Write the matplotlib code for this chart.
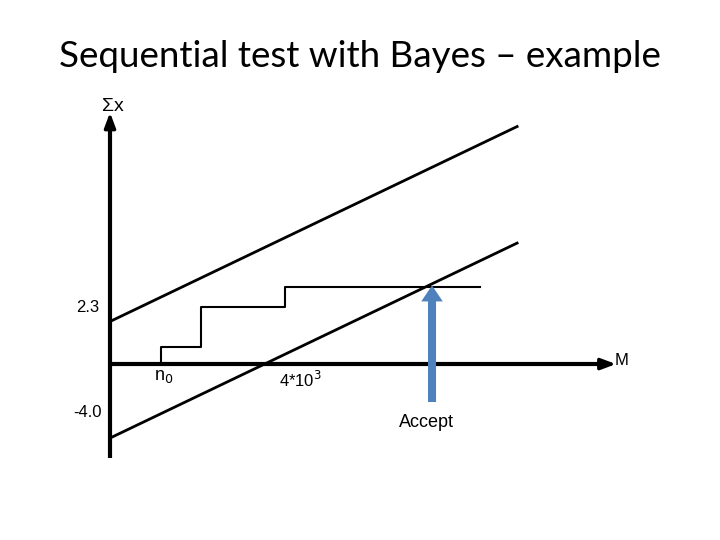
import numpy as np
import matplotlib
matplotlib.use("Agg")
import matplotlib.pyplot as plt

# Thresholds: sum x against number of events M (schematic)
m_line = [0, 10540]
upper_icpt = 2.3
lower_icpt = -4.0
slope = 1.0e-3  # per event

# cumulative sum, a few steps starting at n0
step_m = [1320, 1320, 2356, 2356, 4531, 4531, 9579]
step_s = [0.0, 0.92, 0.92, 3.08, 3.08, 4.16, 4.16]

accept_m = 8337
accept_from, accept_to = -2.05, 4.25

# axis extents
x_axis_end = 13100
y_axis_bottom, y_axis_top = -5.1, 13.6

fig = plt.figure(figsize=(7.2, 5.4), dpi=100)
ax = fig.add_axes([0, 0, 1, 1])
ax.set_xlim(-2848, 15793)
ax.set_ylim(-9.51, 19.68)
ax.axis("off")

arial = "Liberation Sans"
head = "-|>,head_width=0.3,head_length=0.8"

# axes with small arrow heads
ax.plot([0, 0], [y_axis_bottom, 13.0], color="black", lw=3, solid_capstyle="butt")
ax.annotate("", xy=(0, y_axis_top), xytext=(0, 12.0),
            arrowprops=dict(arrowstyle=head, color="black", lw=2.5,
                            mutation_scale=11, shrinkA=0, shrinkB=0))
ax.plot([0, x_axis_end - 200], [0, 0], color="black", lw=3, solid_capstyle="butt")
ax.annotate("", xy=(x_axis_end, 0), xytext=(x_axis_end - 500, 0),
            arrowprops=dict(arrowstyle=head, color="black", lw=2.5,
                            mutation_scale=11, shrinkA=0, shrinkB=0))

# decision lines
m = np.array(m_line)
ax.plot(m, upper_icpt + slope * m, color="black", lw=2)
ax.plot(m, lower_icpt + slope * m, color="black", lw=2)

# sample path
ax.plot(step_m, step_s, color="black", lw=1.5)

# accept arrow
ax.annotate("", xy=(accept_m, accept_to), xytext=(accept_m, accept_from),
            arrowprops=dict(arrowstyle="simple,head_width=1.55,head_length=1.15,tail_width=0.58",
                            color="#4F81BD", lw=0, mutation_scale=10,
                            shrinkA=0, shrinkB=0))

# labels
ax.text(0.5, 0.895, "Sequential test with Bayes \u2013 example", transform=ax.transAxes,
        ha="center", va="center", fontsize=26.5, family="Lato")
ax.text(0.157, 0.803, "\u03a3x", transform=ax.transAxes, ha="center", va="center",
        fontsize=14, family=arial)
ax.text(0.122, 0.431, "2.3", transform=ax.transAxes, ha="center", va="center",
        fontsize=12, family=arial)
ax.text(0.122, 0.237, "-4.0", transform=ax.transAxes, ha="center", va="center",
        fontsize=12, family=arial)
ax.text(0.227, 0.302, "n$_0$", transform=ax.transAxes, ha="center", va="center",
        fontsize=13, family=arial)
ax.text(0.417, 0.296, "4*10$^3$", transform=ax.transAxes, ha="center", va="center",
        fontsize=12, family=arial)
ax.text(0.863, 0.333, "M", transform=ax.transAxes, ha="center", va="center",
        fontsize=12, family=arial)
ax.text(0.593, 0.217, "Accept", transform=ax.transAxes, ha="center", va="center",
        fontsize=13, family=arial)

fig.savefig("out.png", dpi=100)
